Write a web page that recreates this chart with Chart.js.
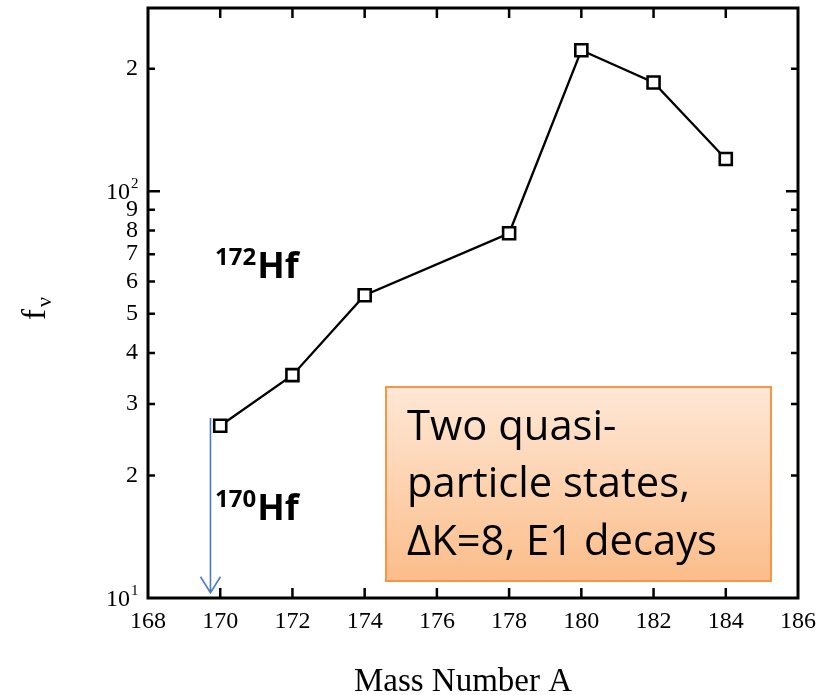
<!DOCTYPE html>
<html><head><meta charset="utf-8">
<script src="https://cdn.jsdelivr.net/npm/chart.js@4/dist/chart.umd.min.js"></script>
<style>html,body{margin:0;padding:0;background:#fff;}canvas{display:block;}</style>
</head><body>
<canvas id="c" width="829" height="695"></canvas>
<script>
// ---- data ----
const massNumbers = [170, 172, 174, 178, 180, 182, 184];
const fNu = [26.5, 35.3, 55.5, 78.8, 222, 185, 120];
const xTickValues = [168, 170, 172, 174, 176, 178, 180, 182, 184, 186];
const yTickValues = [10, 20, 30, 40, 50, 60, 70, 80, 90, 100, 200];
const yTickLabels = ['10', '2', '3', '4', '5', '6', '7', '8', '9', '10', '2'];
const yPowerLabels = { 10: '1', 100: '2' };
const xTitle = 'Mass Number A';
const boxLines = ['Two quasi-', 'particle states,', '\u0394K=8, E1 decays'];
const isotopeLabels = [
  { mass: '172', sym: 'Hf' },
  { mass: '170', sym: 'Hf' }
];
const arrowX = 169.73, arrowFrom = 27.7, arrowTo = 10.3;

const SERIF = '"Liberation Serif", "Times New Roman", serif';
const SANS = '"Open Sans", "Noto Sans", sans-serif';

const decor = {
  id: 'decor',
  afterDraw(chart) {
    const ctx = chart.ctx, a = chart.chartArea;
    const xs = chart.scales.x, ys = chart.scales.y;
    ctx.save();
    // frame
    ctx.strokeStyle = '#000';
    ctx.lineWidth = 3;
    ctx.strokeRect(a.left, a.top, a.right - a.left, a.bottom - a.top);
    // x ticks (inward, top & bottom)
    ctx.lineWidth = 2.5;
    ctx.beginPath();
    xTickValues.forEach(v => {
      if (v === xs.min || v === xs.max) return;
      const px = xs.getPixelForValue(v);
      ctx.moveTo(px, a.bottom); ctx.lineTo(px, a.bottom - 10);
      ctx.moveTo(px, a.top); ctx.lineTo(px, a.top + 10);
    });
    yTickValues.forEach(v => {
      if (v === ys.min) return;
      const py = ys.getPixelForValue(v);
      const len = (v in yPowerLabels) ? 12 : 7;
      ctx.moveTo(a.left, py); ctx.lineTo(a.left + len, py);
      ctx.moveTo(a.right, py); ctx.lineTo(a.right - len, py);
    });
    ctx.stroke();
    // power-of-ten labels
    ctx.fillStyle = '#000';
    Object.keys(yPowerLabels).forEach(k => {
      const py = ys.getPixelForValue(Number(k));
      ctx.font = '24px ' + SERIF;
      ctx.textAlign = 'right'; ctx.textBaseline = 'middle';
      ctx.fillText('10', a.left - 18, py + 2);
      ctx.font = '15px ' + SERIF;
      ctx.textAlign = 'left';
      ctx.fillText(yPowerLabels[k], a.left - 17, py - 7);
    });
    // x title
    ctx.font = '33px ' + SERIF;
    ctx.textAlign = 'center'; ctx.textBaseline = 'alphabetic';
    ctx.fillText(xTitle, (a.left + a.right) / 2 - 10, 691);
    // y title (rotated f_nu)
    ctx.save();
    ctx.translate(45, 320);
    ctx.rotate(-Math.PI / 2);
    ctx.textAlign = 'left'; ctx.textBaseline = 'alphabetic';
    ctx.font = '33px ' + SERIF;
    ctx.fillText('f', 0, 0);
    ctx.font = '22px ' + SERIF;
    ctx.fillText('\u03BD', 13, 6);
    ctx.restore();
    // blue arrow
    const ax = xs.getPixelForValue(arrowX);
    const ay1 = ys.getPixelForValue(arrowFrom), ay2 = ys.getPixelForValue(arrowTo);
    ctx.strokeStyle = '#4a7ebb';
    ctx.lineWidth = 1.6;
    ctx.beginPath();
    ctx.moveTo(ax, ay1); ctx.lineTo(ax, ay2);
    ctx.moveTo(ax - 10, ay2 - 16); ctx.lineTo(ax, ay2); ctx.lineTo(ax + 10, ay2 - 16);
    ctx.stroke();
    // isotope labels
    const isoPos = [[215, 278], [215, 520]];
    isotopeLabels.forEach((l, i) => {
      const [x0, yb] = isoPos[i];
      ctx.fillStyle = '#000';
      ctx.textAlign = 'left'; ctx.textBaseline = 'alphabetic';
      ctx.font = 'bold 24px ' + SANS;
      ctx.fillText(l.mass, x0, yb - 13);
      const w = ctx.measureText(l.mass).width;
      ctx.font = 'bold 36px ' + SANS;
      ctx.fillText(l.sym, x0 + w + 1, yb);
    });
    // orange box
    const bx = 386, by = 387, bw = 385, bh = 194;
    const g = ctx.createLinearGradient(0, by, 0, by + bh);
    g.addColorStop(0, '#fee8d6');
    g.addColorStop(1, '#fbbd8a');
    ctx.fillStyle = g;
    ctx.fillRect(bx, by, bw, bh);
    ctx.strokeStyle = '#f79646';
    ctx.lineWidth = 2;
    ctx.strokeRect(bx, by, bw, bh);
    ctx.fillStyle = '#000';
    let fs = 39;
    ctx.font = fs + 'px ' + SANS;
    const mw = ctx.measureText(boxLines[2]).width;
    fs = Math.max(30, Math.min(46, fs * 310 / mw));
    ctx.font = fs + 'px ' + SANS;
    const bases = [440, 497, 555];
    boxLines.forEach((t, i) => ctx.fillText(t, 407, bases[i]));
    ctx.restore();
  }
};

new Chart(document.getElementById('c'), {
  type: 'line',
  data: {
    datasets: [{
      data: massNumbers.map((x, i) => ({ x, y: fNu[i] })),
      borderColor: '#000',
      borderWidth: 2.3,
      tension: 0,
      pointStyle: 'rect',
      pointRadius: 8.5,
      pointBackgroundColor: '#fff',
      pointBorderColor: '#000',
      pointBorderWidth: 2.6,
      clip: false
    }]
  },
  options: {
    responsive: false,
    animation: false,
    events: [],
    layout: { autoPadding: false, padding: { top: 8, right: 31, left: 0, bottom: 0 } },
    plugins: { legend: { display: false }, tooltip: { enabled: false } },
    scales: {
      x: {
        type: 'linear', min: 168, max: 186,
        grid: { display: false, drawTicks: false },
        border: { display: false },
        afterBuildTicks: s => { s.ticks = xTickValues.map(v => ({ value: v })); },
        afterFit: s => { s.height = 97; s.paddingLeft = 0; s.paddingRight = 0; },
        ticks: {
          autoSkip: false, maxRotation: 0, padding: 9,
          color: '#000', font: { family: SERIF, size: 24 },
          callback: v => String(v)
        }
      },
      y: {
        type: 'logarithmic', min: 10, max: 282,
        grid: { display: false, drawTicks: false },
        border: { display: false },
        afterBuildTicks: s => { s.ticks = yTickValues.map(v => ({ value: v })); },
        afterFit: s => { s.width = 148; s.paddingTop = 0; s.paddingBottom = 0; },
        ticks: {
          autoSkip: false, padding: 10,
          color: '#000', font: { family: SERIF, size: 24 },
          callback: (v, i) => (v in yPowerLabels) ? '' : yTickLabels[i]
        }
      }
    }
  },
  plugins: [decor]
});
</script>
</body></html>
